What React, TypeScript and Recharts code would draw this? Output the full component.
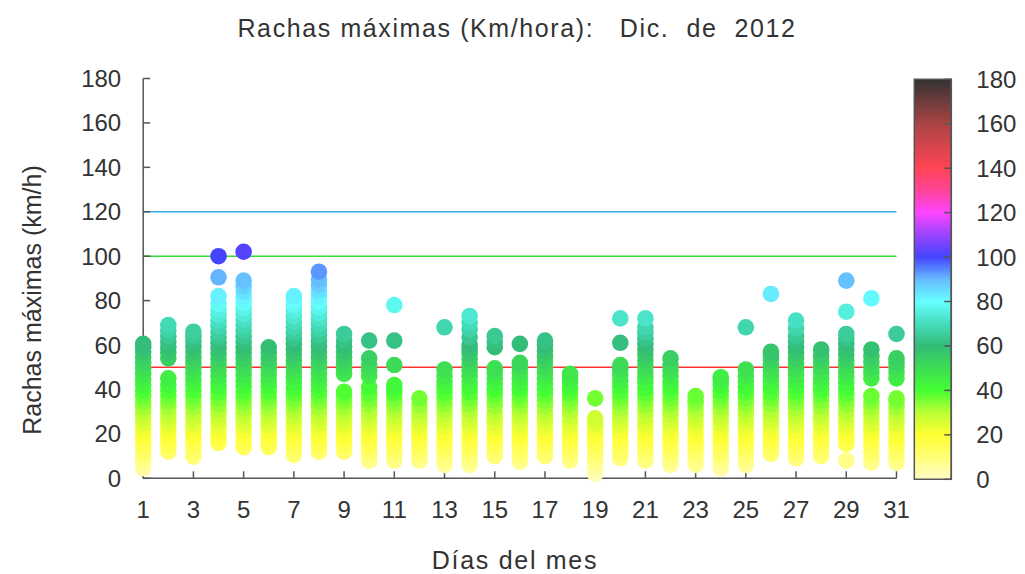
import React from 'react';
import { ScatterChart, Scatter, XAxis, YAxis, ReferenceLine, BarChart, Bar } from 'recharts';

// Daily gust values (km/h), one array per day of December 2012
const d01 = [4.5, 7, 9.5, 12, 14.5, 17, 19.5, 22, 24.5, 27, 29.5, 32, 34.5, 37, 39.5, 42, 44.5, 47, 49.5, 52, 54.5, 57, 59, 60.5];
const d02 = [12, 14.5, 17, 19.5, 22, 24.5, 27, 29.5, 32, 34.5, 37, 39.5, 42, 45, 54, 56.5, 59, 61.5, 64, 66.5, 69];
const d03 = [9.7, 12, 14.5, 17, 19.5, 22, 24.5, 27, 29.5, 32, 34.5, 37, 39.5, 42, 44.5, 47, 49.5, 52, 54.5, 57, 59.5, 62, 64, 66];
const d04 = [16, 18.5, 21, 23.5, 26, 28.5, 31, 33.5, 36, 38.5, 41, 43.5, 46, 48.5, 51, 53.5, 56, 58.5, 61, 63.5, 66, 68.5, 71, 73.5, 76, 78.5, 82, 90.5, 100];
const d05 = [14, 16.5, 19, 21.5, 24, 26.5, 29, 31.5, 34, 36.5, 39, 41.5, 44, 46.5, 49, 51.5, 54, 56.5, 59, 61.5, 64, 66.5, 69, 71.5, 74, 76.5, 79, 81.5, 84, 86.5, 89, 102];
const d06 = [14, 16.5, 19, 21.5, 24, 26.5, 29, 31.5, 34, 36.5, 39, 41.5, 44, 46.5, 49, 51.5, 54, 56.5, 59];
const d07 = [10.5, 13, 15.5, 18, 20.5, 23, 25.5, 28, 30.5, 33, 35.5, 38, 40.5, 43, 45.5, 48, 50.5, 53, 55.5, 58, 60.5, 63, 65.5, 68, 70.5, 73, 75.5, 78, 80, 82];
const d08 = [12, 14.5, 17, 19.5, 22, 24.5, 27, 29.5, 32, 34.5, 37, 39.5, 42, 44.5, 47, 49.5, 52, 54.5, 57, 59.5, 62, 64.5, 67, 69.5, 72, 74.5, 77, 79.5, 82, 84.5, 87, 89.5, 93];
const d09 = [12, 14.5, 17, 19.5, 22, 24.5, 27, 29.5, 32, 34.5, 37, 39, 47, 49.5, 52, 54.5, 57, 59.5, 62, 65];
const d10 = [8, 10.5, 13, 15.5, 18, 20.5, 23, 25.5, 28, 30.5, 33, 35.5, 38, 41, 46, 48.5, 51, 54, 62];
const d11 = [8, 10.5, 13, 15.5, 18, 20.5, 23, 25.5, 28, 30.5, 33, 35.5, 38, 40, 42, 51, 62, 78];
const d12 = [8, 10.5, 13, 15.5, 18, 20.5, 23, 25.5, 28, 30.5, 33, 36];
const d13 = [6, 8.5, 11, 13.5, 16, 18.5, 21, 23.5, 26, 28.5, 31, 33.5, 36, 38.5, 41, 43.5, 46, 49, 68];
const d14 = [6, 8.5, 11, 13.5, 16, 18.5, 21, 23.5, 26, 28.5, 31, 33.5, 36, 38.5, 41, 43.5, 46, 48.5, 51, 53.5, 56, 58, 60, 63.5, 67, 70, 73];
const d15 = [10, 12.5, 15, 17.5, 20, 22.5, 25, 27.5, 30, 32.5, 35, 37.5, 40, 42.5, 45, 47.5, 49.5, 59, 61.5, 64];
const d16 = [7.5, 10, 12.5, 15, 17.5, 20, 22.5, 25, 27.5, 30, 32.5, 35, 37.5, 40, 42.5, 45, 47.5, 50, 52, 60.5];
const d17 = [10, 12.5, 15, 17.5, 20, 22.5, 25, 27.5, 30, 32.5, 35, 37.5, 40, 42.5, 45, 47.5, 50, 52.5, 55, 57.5, 60, 62];
const d18 = [8, 10.5, 13, 15.5, 18, 20.5, 23, 25.5, 28, 30.5, 33, 35.5, 38, 40.5, 43, 45, 47];
const d19 = [2, 4.5, 7, 9.5, 12, 14.5, 17, 19.5, 22, 24.5, 27, 36];
const d20 = [9, 11.5, 14, 16.5, 19, 21.5, 24, 26.5, 29, 31.5, 34, 36.5, 39, 41.5, 44, 46.5, 49, 51, 61, 72];
const d21 = [8, 10.5, 13, 15.5, 18, 20.5, 23, 25.5, 28, 30.5, 33, 35.5, 38, 40.5, 43, 45.5, 48, 50.5, 53, 55.5, 58, 60.5, 63, 65.5, 68, 72];
const d22 = [6, 8.5, 11, 13.5, 16, 18.5, 21, 23.5, 26, 28.5, 31, 33.5, 36, 38.5, 41, 43.5, 46, 48.5, 51, 54];
const d23 = [6, 8.5, 11, 13.5, 16, 18.5, 21, 23.5, 26, 28.5, 31, 33.5, 35, 37];
const d24 = [4.5, 7, 9.5, 12, 14.5, 17, 19.5, 22, 24.5, 27, 29.5, 32, 34.5, 37, 39.5, 42, 44, 45.5];
const d25 = [6, 8.5, 11, 13.5, 16, 18.5, 21, 23.5, 26, 28.5, 31, 33.5, 36, 38.5, 41, 43.5, 46, 49, 68];
const d26 = [11, 13.5, 16, 18.5, 21, 23.5, 26, 28.5, 31, 33.5, 36, 38.5, 41, 43.5, 46, 48.5, 51, 53.5, 55.5, 57, 83];
const d27 = [9, 11.5, 14, 16.5, 19, 21.5, 24, 26.5, 29, 31.5, 34, 36.5, 39, 41.5, 44, 46.5, 49, 51.5, 54, 56.5, 59, 61.5, 64, 67.5, 71];
const d28 = [10, 12.5, 15, 17.5, 20, 22.5, 25, 27.5, 30, 32.5, 35, 37.5, 40, 42.5, 45, 47.5, 50, 52.5, 55, 58];
const d29 = [8, 15.5, 18, 20.5, 23, 25.5, 28, 30.5, 33, 35.5, 38, 40.5, 43, 45.5, 48, 50.5, 53, 55.5, 58, 60.5, 63, 65, 75, 89];
const d30 = [7, 9.5, 12, 14.5, 17, 19.5, 22, 24.5, 27, 29.5, 32, 34.5, 37, 45, 47.5, 50, 52.5, 55, 58, 81];
const d31 = [7, 9.5, 12, 14.5, 17, 19.5, 22, 24.5, 27, 29.5, 32, 34.5, 36, 45, 47.5, 50, 52, 54, 65];

const dayValues = [d01, d02, d03, d04, d05, d06, d07, d08, d09, d10, d11, d12, d13, d14, d15, d16,
  d17, d18, d19, d20, d21, d22, d23, d24, d25, d26, d27, d28, d29, d30, d31];

const xTicks = [1, 3, 5, 7, 9, 11, 13, 15, 17, 19, 21, 23, 25, 27, 29, 31];
const yTicks = [0, 20, 40, 60, 80, 100, 120, 140, 160, 180];
const refLevels = [50, 100, 120];
const refColors = ['#ff3333', '#33dd33', '#33aaee'];

const paletteValues = [0, 10, 20, 30, 40, 50, 60, 70, 80, 90, 100, 110, 120, 130, 140, 160, 180];
const paletteColors = ['#fffcc8', '#ffff77', '#ffff33', '#bbff33', '#44ff33', '#3ddd55', '#33bb77',
  '#44ddbb', '#66ffff', '#66bbff', '#4444ff', '#9944ff', '#ff44ff', '#ff4499', '#ff4455', '#aa4444', '#333333'];

const title = 'Rachas máximas (Km/hora):   Dic.  de  2012';
const xLabel = 'Días del mes';
const yLabel = 'Rachas máximas (km/h)';

const FONT = '"Liberation Sans", Arial, sans-serif';
const TEXT = '#333333';
const BORDER = '#555555';

function hexToRgb(h: string) {
  const n = parseInt(h.slice(1), 16);
  return [(n >> 16) & 255, (n >> 8) & 255, n & 255];
}
function colorFor(v: number) {
  const c = Math.max(0, Math.min(180, v));
  for (let i = 0; i < paletteValues.length - 1; i++) {
    const a = paletteValues[i], b = paletteValues[i + 1];
    if (c >= a && c <= b) {
      const t = (c - a) / (b - a);
      const ca = hexToRgb(paletteColors[i]), cb = hexToRgb(paletteColors[i + 1]);
      const r = ca.map((x, k) => Math.round(x + (cb[k] - x) * t));
      return `rgb(${r[0]},${r[1]},${r[2]})`;
    }
  }
  return paletteColors[paletteColors.length - 1];
}

const points = dayValues.flatMap((vals, i) => vals.map((v) => ({ day: i + 1, v })));
const cbData = [{ name: 'cb', v: 180 }];

const Dot = (props: any) => {
  const { cx, cy, payload } = props;
  return <circle cx={cx} cy={cy} r={8.3} fill={colorFor(payload.v)} />;
};

export default function App() {
  return (
    <div style={{ position: 'relative', width: 1017, height: 566, fontFamily: FONT }}>
      <div style={{ position: 'absolute', left: 0, top: 5, width: 1018, textAlign: 'center', fontSize: 25, letterSpacing: 1.6, lineHeight: '30px', color: TEXT, whiteSpace: 'pre' }}>
        {title}
      </div>
      <div style={{ position: 'absolute', left: 0, top: 537, width: 1014, textAlign: 'center', fontSize: 25, letterSpacing: 1.7, lineHeight: '30px', color: TEXT }}>
        {xLabel}
      </div>
      <div style={{ position: 'absolute', left: 24 - 150, top: 292 - 15, width: 300, textAlign: 'center', fontSize: 25, lineHeight: '30px', color: TEXT, transform: 'rotate(-90deg)', whiteSpace: 'nowrap' }}>
        {yLabel}
      </div>
      <div style={{ position: 'absolute', left: 0, top: 0 }}>
        <ScatterChart width={1010} height={560} margin={{ top: 70.5, right: 121.5, bottom: 39.7, left: 0 }}>
          <XAxis xAxisId="b" type="number" dataKey="day" domain={[1, 31]} ticks={xTicks} interval={0}
            height={50} tickSize={-7} tickMargin={29.7}
            axisLine={{ stroke: BORDER, strokeWidth: 1.5 }} tickLine={{ stroke: BORDER, strokeWidth: 1.5 }}
            tick={{ fill: TEXT, fontSize: 24, fontFamily: FONT }} />
          <XAxis xAxisId="t" orientation="top" type="number" domain={[1, 31]} ticks={xTicks} interval={0}
            height={0} tickSize={-7} tick={false}
            axisLine={{ stroke: BORDER, strokeWidth: 1.5 }} tickLine={{ stroke: BORDER, strokeWidth: 1.5 }} />
          <YAxis yAxisId="l" type="number" dataKey="v" domain={[0, 180]} ticks={yTicks} interval={0}
            width={135.2} tickSize={-7} tickMargin={29}
            axisLine={{ stroke: BORDER, strokeWidth: 1.5 }} tickLine={{ stroke: BORDER, strokeWidth: 1.5 }}
            tick={{ fill: TEXT, fontSize: 24, fontFamily: FONT }} />
          <YAxis yAxisId="r" orientation="right" type="number" domain={[0, 180]} ticks={yTicks} interval={0}
            width={0} tickSize={-7} tick={false}
            axisLine={{ stroke: BORDER, strokeWidth: 1.5 }} tickLine={{ stroke: BORDER, strokeWidth: 1.5 }} />
          {refLevels.map((lv, i) => (
            <ReferenceLine key={lv} xAxisId="b" yAxisId="l" y={lv} stroke={refColors[i]} strokeWidth={1.5} />
          ))}
          <Scatter xAxisId="b" yAxisId="l" data={points} dataKey="v" shape={Dot} isAnimationActive={false} />
        </ScatterChart>
      </div>
      <div style={{ position: 'absolute', left: 892, top: 52 }}>
        <BarChart width={125} height={440} data={cbData} barCategoryGap={0}
          margin={{ top: 19.3, right: 0, bottom: 20.7, left: 14.3 }}>
          <defs>
            <linearGradient id="cbGrad" x1="0" y1="1" x2="0" y2="0">
              {paletteValues.map((v, i) => (
                <stop key={v} offset={v / 180} stopColor={paletteColors[i]} />
              ))}
            </linearGradient>
          </defs>
          <XAxis dataKey="name" hide />
          <YAxis yAxisId="l" type="number" domain={[0, 180]} ticks={yTicks} interval={0} width={0}
            tickSize={-7} tick={false} axisLine={{ stroke: BORDER, strokeWidth: 1.5 }}
            tickLine={{ stroke: BORDER, strokeWidth: 1.5 }} />
          <YAxis yAxisId="r" orientation="right" type="number" domain={[0, 180]} ticks={yTicks} interval={0}
            width={73.7} tickSize={-7} tickMargin={32}
            axisLine={{ stroke: BORDER, strokeWidth: 1.5 }} tickLine={{ stroke: BORDER, strokeWidth: 1.5 }}
            tick={{ fill: TEXT, fontSize: 24, fontFamily: FONT }} />
          <Bar yAxisId="r" dataKey="v" fill="url(#cbGrad)" stroke={BORDER} strokeWidth={1.5} isAnimationActive={false} />
        </BarChart>
      </div>
    </div>
  );
}
